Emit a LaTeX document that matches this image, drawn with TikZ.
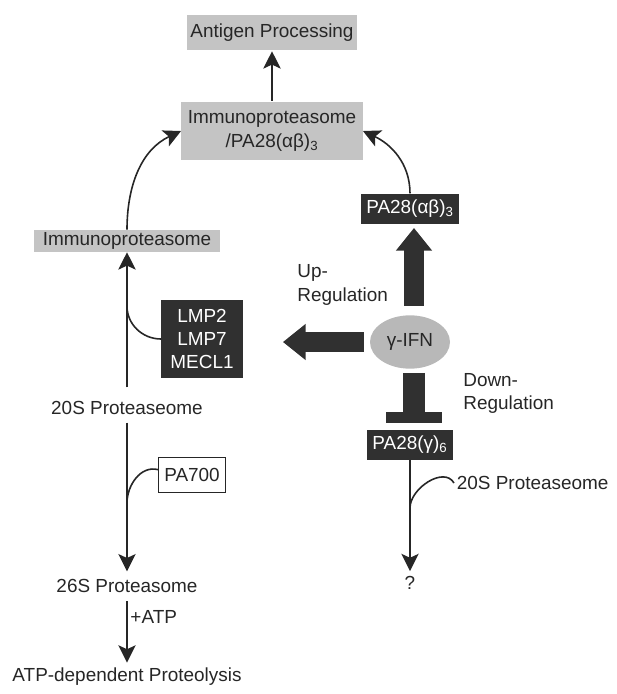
\documentclass[tikz,border=0pt]{standalone}
\usepackage{fontspec}
\setmainfont{Liberation Sans}
\usepackage{xcolor}
\usepackage{tikz}
\usetikzlibrary{positioning}
\usetikzlibrary{shapes.geometric, arrows.meta}
\definecolor{boxgrey}{HTML}{C4C4C4}
\definecolor{boxdark}{HTML}{303030}
\definecolor{ifngrey}{HTML}{B8B8B8}
\definecolor{inkgrey}{HTML}{262626}
\newcommand{\fs}{\fontsize{14.2}{17.5}\selectfont}
\tikzstyle{lightbox} = [rectangle, fill=boxgrey, text=inkgrey, inner sep=1pt, align=center, font=\fs]
\tikzstyle{darkbox} = [rectangle, fill=boxdark, text=white, inner sep=1pt, align=center, font=\fs]
\tikzstyle{lbl} = [text=inkgrey, inner sep=2pt, font=\fs]
\tikzstyle{arrow} = [draw=inkgrey, line width=1.2pt, -{Stealth[length=13pt,width=13pt,inset=3pt]}]
\tikzstyle{feed} = [draw=inkgrey, line width=1.2pt]
\tikzstyle{fat} = [draw=boxdark, line width=15pt, -{Triangle[length=17pt,width=26pt]}]
\tikzstyle{block} = [draw=boxdark, line width=16pt, -{Rectangle[length=8pt,width=42pt]}]

\begin{document}
\begin{tikzpicture}[x=0.75pt, y=0.75pt]
    \useasboundingbox (0,0) rectangle (617,-694);
    \node(immpa)[lightbox, minimum width=136pt, minimum height=43pt] at (272,-131) {Immunoproteasome\\/PA28(αβ)\textsubscript{3}};
    \node(antigen)[node distance=74pt, lightbox, minimum width=128pt, minimum height=26pt, above of=immpa] {Antigen Processing};
    \node(imm)[lightbox, minimum width=140pt, minimum height=16.5pt] at (127,-241) {Immunoproteasome};
    \node(p20)[node distance=125pt, lbl, below of=imm] {20S Proteaseome};
    \node(p26)[node distance=134pt, lbl, below of=p20] {26S Proteasome};
    \node(atp)[node distance=68pt, lbl, below of=p26] {ATP-dependent Proteolysis};
    \node(lmp)[darkbox, minimum width=61pt, minimum height=59pt] at (202,-339) {LMP2\\LMP7\\MECL1};
    \node(pa700)[rectangle, draw=inkgrey, line width=0.8pt, text=inkgrey, font=\fs, minimum width=50pt, minimum height=26pt, inner sep=1pt] at (192,-475) {PA700};
    %
    \node(ifn)[ellipse, fill=ifngrey, text=inkgrey, font=\fs, minimum width=60pt, minimum height=40pt, inner sep=0pt] at (410,-342) {γ-IFN};
    \node(pa28ab)[node distance=100pt, darkbox, minimum width=73.5pt, minimum height=22.5pt, above of=ifn] {PA28(αβ)\textsubscript{3}};
    \node(pa28g)[node distance=77pt, darkbox, minimum width=65pt, minimum height=22.5pt, below of=ifn] {PA28(γ)\textsubscript{6}};
    \node(q)[node distance=104pt, lbl, below of=pa28g] {?};
    \node(p20r)[lbl, anchor=west] at (454,-483) {20S Proteaseome};
    \coordinate(lmpjoin) at (127,-306);
    \coordinate(pajoin) at (127,-503);
    \coordinate(rjoin) at (410,-508);
    %
    \draw[arrow, shorten <=1pt, shorten >=1pt](immpa)--(antigen);
    \draw[arrow](imm.north) to[out=90, in=205] (immpa.west);
    \draw[arrow](pa28ab.north) to[out=90, in=-25] (immpa.east);
    \draw[arrow, shorten <=8pt](p20)--(imm);
    \draw[feed](lmp.west) to[out=180, in=-90] (lmpjoin);
    \draw[arrow, shorten <=4pt, shorten >=4pt](p20)--(p26);
    \draw[feed]([yshift=4pt]pa700.west) to[out=165, in=90] (pajoin);
    \draw[arrow, shorten <=4pt, shorten >=2pt](p26)--node[lbl, anchor=west, pos=0.3]{+ATP}(atp);
    %
    \draw[fat, shorten <=7pt, shorten >=3pt]([xshift=3pt]ifn.north)--node[lbl, anchor=east, align=left, pos=0.33, xshift=-10pt]{Up-\\Regulation}([xshift=3pt]pa28ab.south);
    \draw[fat, shorten <=4.5pt, shorten >=30pt](ifn.west)--(ifn.west -| lmp.east);
    \draw[block, shorten <=3pt, shorten >=5pt]([xshift=3pt]ifn.south)--node[lbl, anchor=west, align=left, pos=0.4, xshift=27pt]{Down-\\Regulation}([xshift=3pt]pa28g.north);
    \draw[arrow, shorten >=2pt](pa28g)--(q);
    \draw[feed](p20r.west) to[out=120, in=90] (rjoin);
\end{tikzpicture}
\end{document}
